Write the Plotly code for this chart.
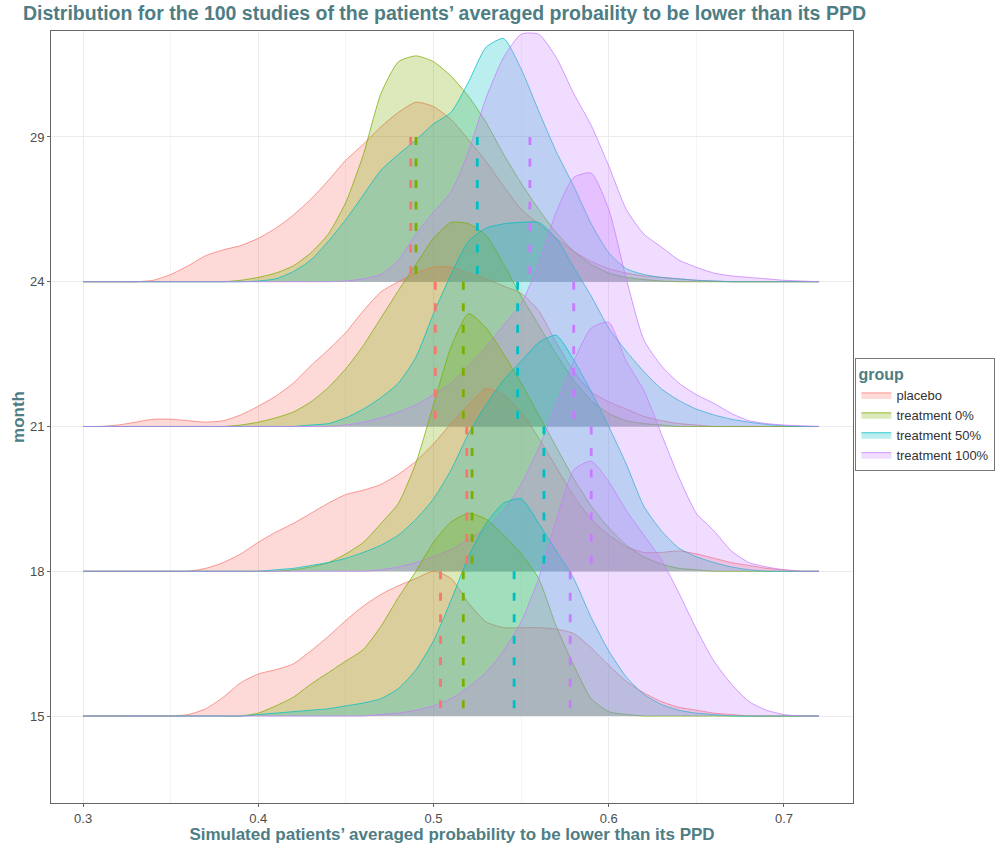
import plotly.graph_objects as go

# x positions of the density estimates (0.30 .. 0.72, step 0.01)
X_GRID = [0.30, 0.31, 0.32, 0.33, 0.34, 0.35, 0.36, 0.37, 0.38, 0.39,
          0.40, 0.41, 0.42, 0.43, 0.44, 0.45, 0.46, 0.47, 0.48, 0.49,
          0.50, 0.51, 0.52, 0.53, 0.54, 0.55, 0.56, 0.57, 0.58, 0.59,
          0.60, 0.61, 0.62, 0.63, 0.64, 0.65, 0.66, 0.67, 0.68, 0.69,
          0.70, 0.71, 0.72]

GROUPS = ["placebo", "treatment 0%", "treatment 50%", "treatment 100%"]
MONTH_LABELS = ["15", "18", "21", "24", "29"]

# scaled ridge heights (in ridge units) for every month / group
month15_placebo = [0, 0, 0, 0, 0, 0, 0.01, 0.05, 0.13, 0.23, 0.29, 0.32, 0.36, 0.45, 0.55, 0.66, 0.76, 0.84, 0.90, 0.95,
                   1.00, 0.95, 0.78, 0.65, 0.61, 0.61, 0.61, 0.60, 0.57, 0.47, 0.35, 0.24, 0.16, 0.10, 0.06, 0.04, 0.02, 0.01, 0, 0,
                   0, 0, 0]
month15_t0 = [0, 0, 0, 0, 0, 0, 0, 0, 0, 0, 0.02, 0.07, 0.13, 0.22, 0.30, 0.38, 0.46, 0.62, 0.82, 1.00,
              1.20, 1.34, 1.40, 1.36, 1.25, 1.12, 0.95, 0.62, 0.35, 0.12, 0.03, 0.01, 0, 0, 0, 0, 0, 0, 0, 0,
              0, 0, 0]
month15_t50 = [0, 0, 0, 0, 0, 0, 0, 0, 0, 0, 0.01, 0.02, 0.03, 0.04, 0.05, 0.07, 0.09, 0.12, 0.19, 0.32,
               0.52, 0.80, 1.10, 1.33, 1.47, 1.50, 1.33, 1.14, 0.95, 0.68, 0.45, 0.27, 0.15, 0.08, 0.04, 0.02, 0.01, 0, 0, 0,
               0, 0, 0]
month15_t100 = [0, 0, 0, 0, 0, 0, 0, 0, 0, 0, 0, 0, 0, 0, 0, 0, 0, 0.01, 0.02, 0.04,
                0.07, 0.12, 0.20, 0.30, 0.45, 0.65, 0.95, 1.35, 1.70, 1.76, 1.62, 1.42, 1.25, 1.08, 0.85, 0.60, 0.38, 0.22, 0.10, 0.04,
                0.01, 0, 0]

month18_placebo = [0, 0, 0, 0, 0, 0, 0, 0.02, 0.06, 0.12, 0.20, 0.27, 0.33, 0.40, 0.47, 0.53, 0.56, 0.60, 0.67, 0.76,
                   0.88, 1.02, 1.15, 1.26, 1.22, 1.10, 0.92, 0.72, 0.52, 0.36, 0.25, 0.17, 0.13, 0.13, 0.14, 0.12, 0.09, 0.06, 0.04, 0.02,
                   0.01, 0, 0]
month18_t0 = [0, 0, 0, 0, 0, 0, 0, 0, 0, 0, 0, 0, 0.01, 0.03, 0.06, 0.12, 0.20, 0.33, 0.47, 0.75,
              1.15, 1.55, 1.78, 1.68, 1.50, 1.30, 1.08, 0.86, 0.64, 0.45, 0.30, 0.18, 0.10, 0.05, 0.02, 0.01, 0, 0, 0, 0,
              0, 0, 0]
month18_t50 = [0, 0, 0, 0, 0, 0, 0, 0, 0, 0, 0, 0.01, 0.02, 0.04, 0.06, 0.09, 0.13, 0.18, 0.25, 0.36,
               0.50, 0.70, 0.95, 1.15, 1.32, 1.45, 1.58, 1.63, 1.46, 1.24, 1.00, 0.74, 0.45, 0.28, 0.16, 0.10, 0.06, 0.03, 0.01, 0,
               0, 0, 0]
month18_t100 = [0, 0, 0, 0, 0, 0, 0, 0, 0, 0, 0, 0, 0, 0, 0, 0, 0, 0.01, 0.03, 0.06,
                0.10, 0.15, 0.22, 0.30, 0.42, 0.60, 0.85, 1.15, 1.45, 1.68, 1.72, 1.45, 1.25, 0.95, 0.65, 0.40, 0.28, 0.14, 0.06, 0.03,
                0.01, 0, 0]

month21_placebo = [0, 0, 0.01, 0.03, 0.05, 0.05, 0.04, 0.03, 0.04, 0.08, 0.14, 0.21, 0.30, 0.42, 0.53, 0.65, 0.80, 0.93, 1.00, 1.06,
                   1.10, 1.10, 1.06, 1.02, 0.97, 0.92, 0.80, 0.58, 0.38, 0.24, 0.17, 0.12, 0.07, 0.04, 0.02, 0.01, 0, 0, 0, 0,
                   0, 0, 0]
month21_t0 = [0, 0, 0, 0, 0, 0, 0, 0, 0, 0.01, 0.03, 0.06, 0.10, 0.17, 0.27, 0.40, 0.56, 0.75, 0.94, 1.12,
              1.30, 1.41, 1.40, 1.32, 1.12, 0.90, 0.70, 0.50, 0.32, 0.18, 0.09, 0.04, 0.02, 0.01, 0, 0, 0, 0, 0, 0,
              0, 0, 0]
month21_t50 = [0, 0, 0, 0, 0, 0, 0, 0, 0, 0, 0, 0, 0, 0.01, 0.02, 0.06, 0.12, 0.20, 0.30, 0.48,
               0.78, 1.05, 1.28, 1.37, 1.40, 1.41, 1.41, 1.30, 1.10, 0.90, 0.68, 0.52, 0.38, 0.26, 0.18, 0.12, 0.08, 0.05, 0.03, 0.015,
               0.005, 0, 0]
month21_t100 = [0, 0, 0, 0, 0, 0, 0, 0, 0, 0, 0, 0, 0, 0, 0, 0.01, 0.03, 0.06, 0.10, 0.15,
                0.22, 0.30, 0.42, 0.55, 0.70, 0.85, 1.12, 1.48, 1.72, 1.75, 1.50, 1.02, 0.60, 0.42, 0.30, 0.22, 0.16, 0.09, 0.04, 0.02,
                0.01, 0.005, 0]

month24_placebo = [0, 0, 0, 0, 0.01, 0.05, 0.11, 0.18, 0.22, 0.25, 0.30, 0.37, 0.46, 0.57, 0.70, 0.84, 0.95, 1.07, 1.17, 1.24,
                   1.21, 1.12, 0.98, 0.83, 0.66, 0.50, 0.40, 0.30, 0.21, 0.14, 0.09, 0.06, 0.04, 0.03, 0.02, 0.01, 0.005, 0, 0, 0,
                   0, 0, 0]
month24_t0 = [0, 0, 0, 0, 0, 0, 0, 0, 0, 0.01, 0.03, 0.06, 0.11, 0.20, 0.33, 0.55, 0.88, 1.30, 1.52, 1.56,
              1.52, 1.42, 1.28, 1.10, 0.88, 0.68, 0.50, 0.34, 0.21, 0.12, 0.06, 0.03, 0.015, 0.005, 0, 0, 0, 0, 0, 0,
              0, 0, 0]
month24_t50 = [0, 0, 0, 0, 0, 0, 0, 0, 0, 0, 0.005, 0.02, 0.07, 0.15, 0.28, 0.43, 0.60, 0.77, 0.88, 0.98,
               1.09, 1.17, 1.38, 1.62, 1.68, 1.47, 1.18, 0.90, 0.66, 0.40, 0.20, 0.09, 0.05, 0.03, 0.02, 0.01, 0.005, 0, 0, 0,
               0, 0, 0]
month24_t100 = [0, 0, 0, 0, 0, 0, 0, 0, 0, 0, 0, 0, 0, 0, 0, 0.005, 0.02, 0.05, 0.15, 0.33,
                0.48, 0.62, 0.90, 1.27, 1.55, 1.71, 1.71, 1.55, 1.30, 1.08, 0.80, 0.50, 0.33, 0.24, 0.15, 0.10, 0.06, 0.04, 0.03, 0.02,
                0.01, 0.005, 0]

# group means per month, drawn as dashed segments
mean_15 = [0.504, 0.517, 0.546, 0.578]
mean_18 = [0.519, 0.522, 0.563, 0.590]
mean_21 = [0.501, 0.517, 0.548, 0.580]
mean_24 = [0.487, 0.490, 0.525, 0.555]

ridges = [
    ("15", [month15_placebo, month15_t0, month15_t50, month15_t100], mean_15),
    ("18", [month18_placebo, month18_t0, month18_t50, month18_t100], mean_18),
    ("21", [month21_placebo, month21_t0, month21_t50, month21_t100], mean_21),
    ("24", [month24_placebo, month24_t0, month24_t50, month24_t100], mean_24),
]

COLORS = ["#F8766D", "#7CAE00", "#00BFC4", "#C77CFF"]
FILL_ALPHA = 0.27
LINE_ALPHA = 0.75


def rgba(hex_color, a):
    h = hex_color.lstrip("#")
    r, g, b = int(h[0:2], 16), int(h[2:4], 16), int(h[4:6], 16)
    return f"rgba({r},{g},{b},{a})"


fig = go.Figure()

# ridges are drawn from the top one down so lower ridges sit in front
for pos in range(len(ridges), 0, -1):
    label, curves, _ = ridges[pos - 1]
    for gi, heights in enumerate(curves):
        fig.add_trace(go.Scatter(
            x=X_GRID,
            y=[pos + h for h in heights],
            mode="lines",
            line=dict(color=rgba(COLORS[gi], LINE_ALPHA), width=1, shape="spline", smoothing=0.6),
            fill="toself",
            fillcolor=rgba(COLORS[gi], FILL_ALPHA),
            name=GROUPS[gi],
            legendgroup=GROUPS[gi],
            showlegend=(pos == 1),
            hoverinfo="skip",
        ))

# dashed mean markers spanning from the next ridge down to each baseline
for pos, (label, _, means) in enumerate(ridges, start=1):
    for gi, m in enumerate(means):
        fig.add_trace(go.Scatter(
            x=[m, m], y=[pos + 1, pos],
            mode="lines",
            line=dict(color=COLORS[gi], width=2.8, dash="8px,13.5px"),
            showlegend=False, hoverinfo="skip",
        ))

TEAL = "#4E7D84"
TICK_GREY = "#4d4d4d"

fig.update_layout(
    width=1008, height=844,
    margin=dict(l=51, r=155, t=31, b=41, autoexpand=False),
    paper_bgcolor="white", plot_bgcolor="white",
    font=dict(family="Liberation Sans, Arial, sans-serif", color=TICK_GREY),
    title=dict(
        text="<b>Distribution for the 100 studies of the patients’ averaged probaility to be lower than its PPD</b>",
        x=23 / 1008, xanchor="left", xref="container",
        y=1 - 13 / 844, yanchor="middle", yref="container",
        font=dict(size=19.5, color=TEAL),
    ),
    xaxis=dict(
        range=[0.2817, 0.7394],
        tickvals=[0.3, 0.4, 0.5, 0.6, 0.7],
        ticktext=["0.3", "0.4", "0.5", "0.6", "0.7"],
        showgrid=True, gridcolor="#ebebeb", gridwidth=1,
        minor=dict(tickvals=[0.35, 0.45, 0.55, 0.65], showgrid=True, gridcolor="#f4f4f4", gridwidth=1),
        zeroline=False,
        showline=True, linecolor="#666666", linewidth=1, mirror=True,
        ticks="outside", ticklen=3, tickcolor="#666666",
        tickfont=dict(size=13, color=TICK_GREY),
        title=dict(text="<b>Simulated patients’ averaged probability to be lower than its PPD</b>",
                   font=dict(size=17, color=TEAL), standoff=3),
    ),
    yaxis=dict(
        range=[0.399, 5.732],
        tickvals=[1, 2, 3, 4, 5],
        ticktext=MONTH_LABELS,
        showgrid=True, gridcolor="#ebebeb", gridwidth=1,
        zeroline=False,
        showline=True, linecolor="#666666", linewidth=1, mirror=True,
        ticks="outside", ticklen=3, tickcolor="#666666",
        tickfont=dict(size=13, color=TICK_GREY),
        title=dict(text="<b>month</b>", font=dict(size=17, color=TEAL), standoff=0),
    ),
    legend=dict(
        title=dict(text="<b>group</b>", font=dict(size=16, color=TEAL)),
        x=1.003, xanchor="left", y=0.503, yanchor="middle",
        bordercolor="#777777", borderwidth=1,
        font=dict(size=13, color="#333333"),
        tracegroupgap=0, itemwidth=30,
    ),
)

fig.write_html("out.html")
